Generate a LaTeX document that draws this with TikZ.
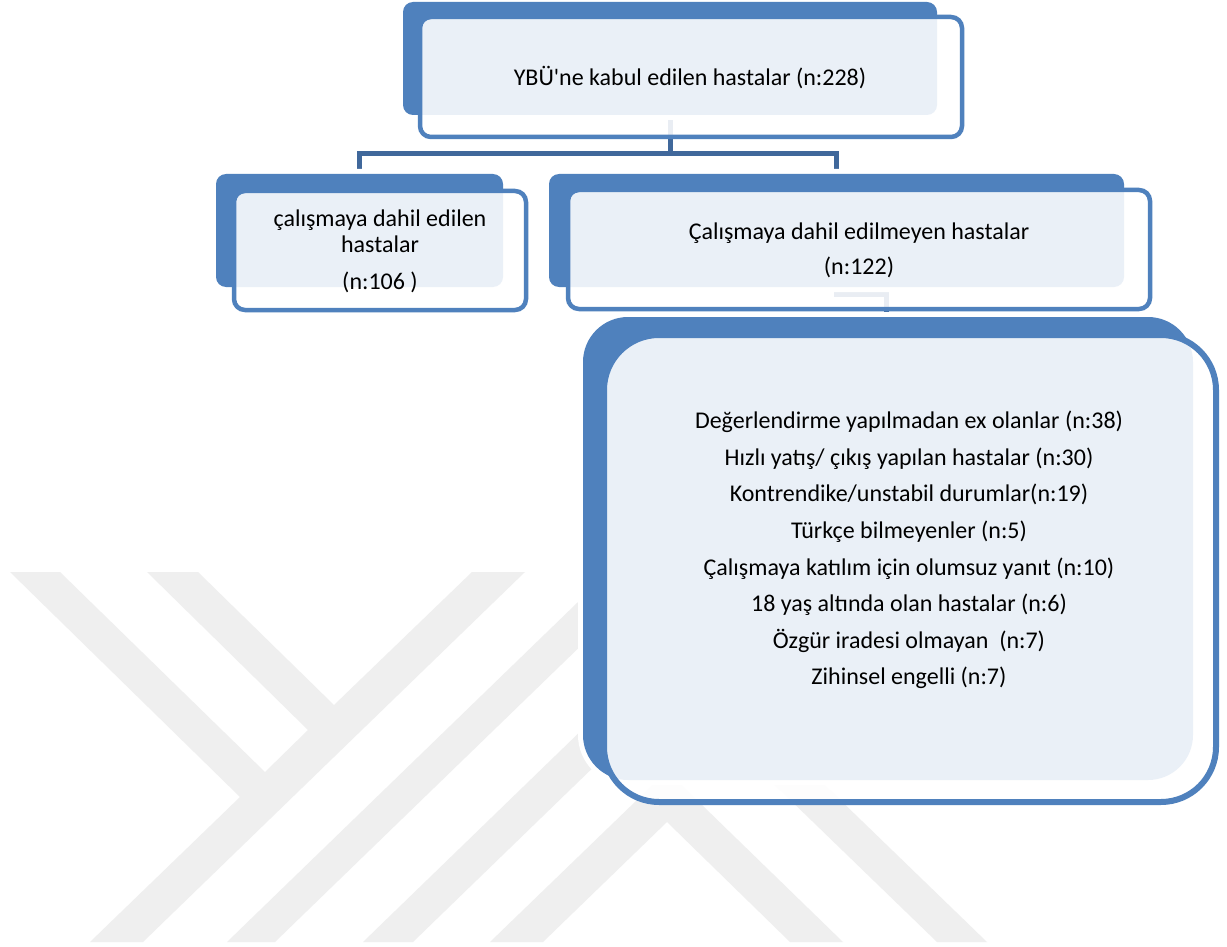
\documentclass[tikz,border=0pt]{standalone}
\usepackage{fontspec}
\setmainfont{Carlito}
\newfontfamily\aposfont{Carlito}
\usetikzlibrary{calc}
\definecolor{acc}{RGB}{79,129,189}
\definecolor{connc}{RGB}{64,104,155}
\definecolor{wmc}{RGB}{239,239,239}
\pgfdeclarelayer{wmlayer}
\pgfdeclarelayer{links}
\pgfsetlayers{wmlayer,links,main}
\begin{document}
\begin{tikzpicture}[x=0.5pt,y=-0.5pt,
  backbox/.style={rectangle, inner sep=0pt, outer sep=0pt, fill=acc, preaction={draw=white,line width=5pt}},
  frontbox/.style={rectangle, inner sep=0pt, outer sep=0pt, draw=acc, line width=2.25pt, fill=white, fill opacity=0.885},
  txt/.style={inner sep=0pt, align=center, text=black},
  link/.style={draw=connc, line width=2.5pt, line join=miter},
  wmark/.style={fill=wmc}
]
\useasboundingbox (0,0) rectangle (1227,947);

% boxes: back shapes
\node[backbox, rounded corners=5pt, minimum width=267pt, minimum height=56.5pt] (k1) at (670,58.5) {};
\node[backbox, rounded corners=5pt, minimum width=143.5pt, minimum height=56.5pt] (k2) at (359.5,230.5) {};
\node[backbox, rounded corners=5pt, minimum width=287.5pt, minimum height=56.5pt] (k3) at (836.5,230.5) {};
\node[backbox, rounded corners=22.5pt, minimum width=305pt, minimum height=231.5pt] (k4) at (888,548.5) {};

% boxes: front shapes
\node[frontbox, rounded corners=5.5pt, minimum width=271pt, minimum height=60pt] (f1) at (691,77) {};
\node[frontbox, rounded corners=5.5pt, minimum width=146pt, minimum height=59.5pt] (f2) at (380,250.5) {};
\node[frontbox, rounded corners=5.5pt, minimum width=291pt, minimum height=59.5pt] (f3) at (859,249.5) {};
\node[frontbox, rounded corners=27.5pt, line width=3pt, minimum width=306pt, minimum height=233.5pt] (f4) at (910,568.5) {};

% texts
\node[txt, font=\fontsize{12pt}{13pt}\selectfont] (t1) at (690,78) {YBÜ{\aposfont'}ne kabul edilen hastalar (n:228)};
\node[txt, font=\fontsize{12pt}{13pt}\selectfont] (t2) at (380,251.5) {çalışmaya dahil edilen\\hastalar\\[5.5pt](n:106 )};
\node[txt, font=\fontsize{12pt}{17.5pt}\selectfont] (t3) at (859,250.5) {Çalışmaya dahil edilmeyen hastalar\\(n:122)};
\node[txt, font=\fontsize{12pt}{18.3pt}\selectfont] (t4) at (909,550) {Değerlendirme yapılmadan ex olanlar (n:38)\\
Hızlı yatış/ çıkış yapılan hastalar (n:30)\\
Kontrendike/unstabil durumlar(n:19)\\
Türkçe bilmeyenler (n:5)\\
Çalışmaya katılım için olumsuz yanıt (n:10)\\
18 yaş altında olan hastalar (n:6)\\
Özgür iradesi olmayan\ \ (n:7)\\
Zihinsel engelli (n:7)};

% connectors
\coordinate (bus) at (670,154);
\coordinate (elbow) at (886,294);
\coordinate (stub) at (886,312);
\begin{pgfonlayer}{links}
\draw[link] (k1.south) -- (bus);
\draw[link] (k2.north) |- (bus) -| (k3.north);
\draw[link] (k3.south) |- (elbow) -- (stub);
\end{pgfonlayer}

% canvas and watermark
\begin{pgfonlayer}{wmlayer}
\fill[white] (0,0) rectangle (1227,947);
\fill[wmark] (10,572) -- (60,572) -- (265,772) -- (308,730) -- (147,572) -- (198,572)
  -- (334,705) -- (472,572) -- (525,572) -- (143,942) -- (90,942) -- (240,797) -- cycle;
\fill[wmark] (227,942) -- (275,942) -- (657,572) -- (609,572) -- cycle;
\fill[wmark] (363,942) -- (413,942) -- (766,600) -- (716,600) -- cycle;
\fill[wmark] (490,942) -- (543,942) -- (667,822) -- (790,942) -- (843,942) -- (667,771) -- cycle;
\fill[wmark] (937,942) -- (987,942) -- (737,700) -- (687,700) -- cycle;
\end{pgfonlayer}
\end{tikzpicture}
\end{document}
